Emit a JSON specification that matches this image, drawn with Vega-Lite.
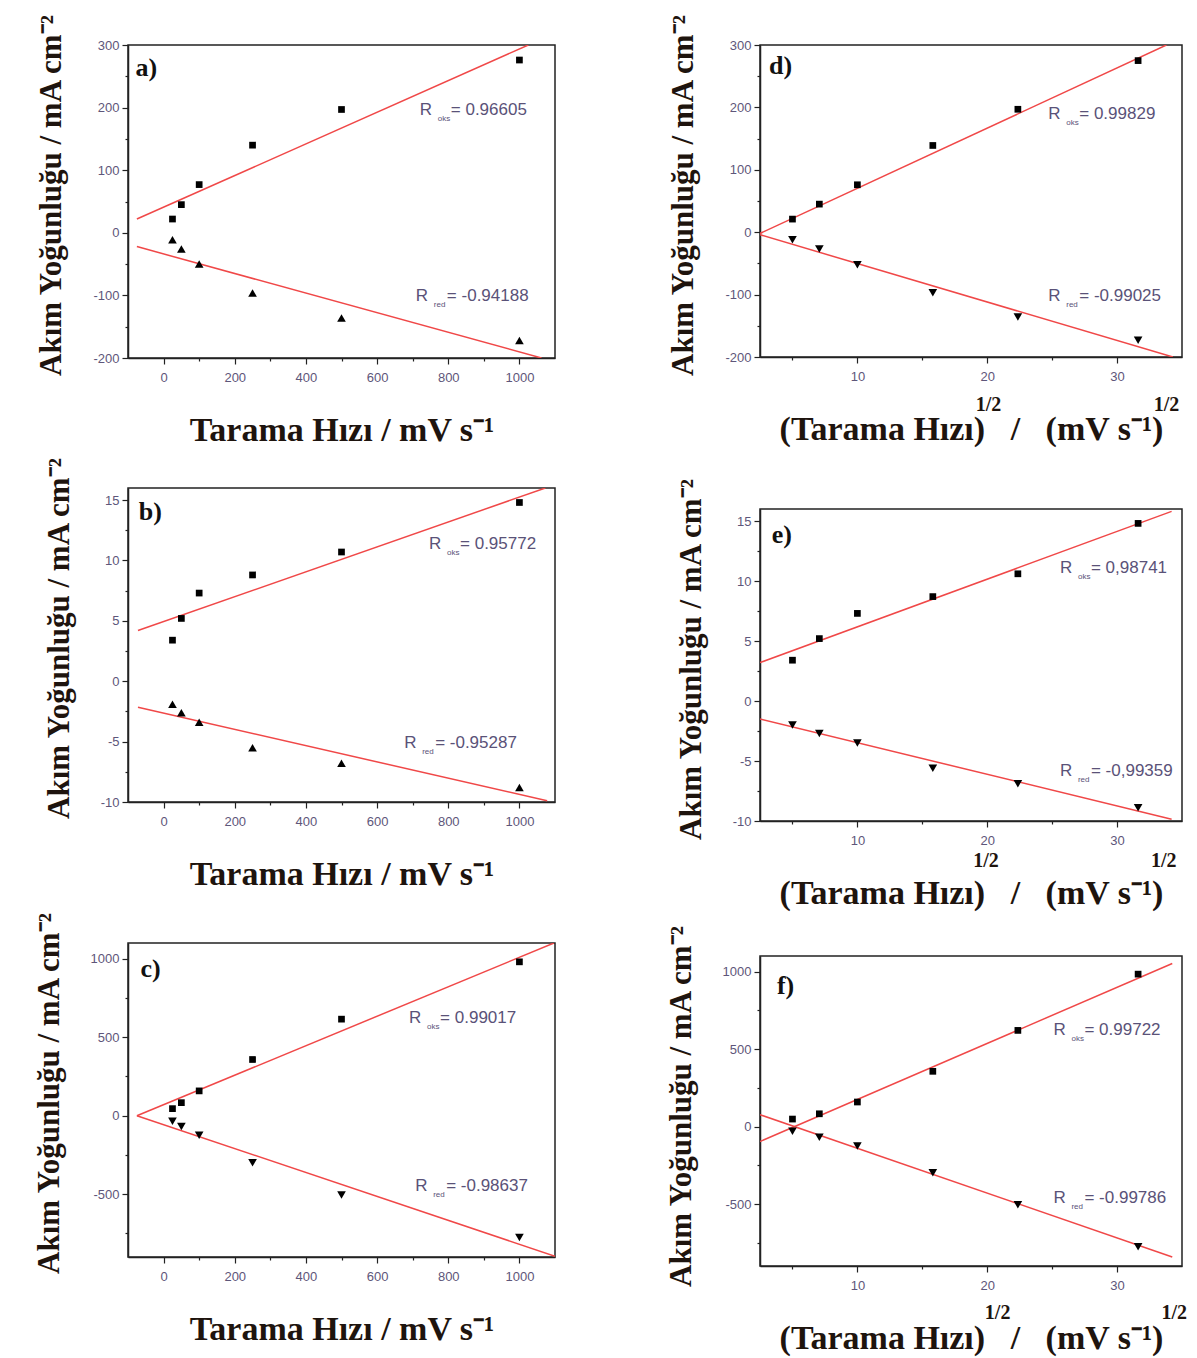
{
  "$schema": "https://vega.github.io/schema/vega-lite/v6.json",
  "background": "white",
  "padding": {"left": 32, "top": 12, "right": 5, "bottom": 5},
  "config": {
    "view": {"stroke": "#222", "strokeWidth": 1.5},
    "axis": {
      "grid": false,
      "domainColor": "#222",
      "domainWidth": 1.5,
      "tickColor": "#222",
      "tickWidth": 1.2,
      "labelFont": "Liberation Sans",
      "labelFontSize": 13,
      "labelColor": "#5e567a",
      "labelOverlap": false,
      "labelFlush": false,
      "titleFont": "Liberation Serif",
      "titleFontWeight": "bold",
      "titleColor": "#1e140e"
    },
    "axisX": {"titlePadding": 29, "labelPadding": 7, "titleFontSize": 34},
    "axisY": {"titlePadding": 25, "labelPadding": 3, "titleFontSize": 31, "titleY": 150}
  },
  "datasets": {
    "pts": [
      {"panel": "a", "kind": "oks", "x": 25, "y": 22},
      {"panel": "a", "kind": "oks", "x": 50, "y": 45},
      {"panel": "a", "kind": "oks", "x": 100, "y": 77},
      {"panel": "a", "kind": "oks", "x": 250, "y": 140},
      {"panel": "a", "kind": "oks", "x": 500, "y": 197},
      {"panel": "a", "kind": "oks", "x": 1000, "y": 276},
      {"panel": "a", "kind": "red", "x": 25, "y": -11},
      {"panel": "a", "kind": "red", "x": 50, "y": -26},
      {"panel": "a", "kind": "red", "x": 100, "y": -50},
      {"panel": "a", "kind": "red", "x": 250, "y": -96},
      {"panel": "a", "kind": "red", "x": 500, "y": -136},
      {"panel": "a", "kind": "red", "x": 1000, "y": -172},
      {"panel": "b", "kind": "oks", "x": 25, "y": 3.4},
      {"panel": "b", "kind": "oks", "x": 50, "y": 5.2},
      {"panel": "b", "kind": "oks", "x": 100, "y": 7.3},
      {"panel": "b", "kind": "oks", "x": 250, "y": 8.8},
      {"panel": "b", "kind": "oks", "x": 500, "y": 10.7},
      {"panel": "b", "kind": "oks", "x": 1000, "y": 14.8},
      {"panel": "b", "kind": "red", "x": 25, "y": -1.9},
      {"panel": "b", "kind": "red", "x": 50, "y": -2.6},
      {"panel": "b", "kind": "red", "x": 100, "y": -3.4},
      {"panel": "b", "kind": "red", "x": 250, "y": -5.5},
      {"panel": "b", "kind": "red", "x": 500, "y": -6.8},
      {"panel": "b", "kind": "red", "x": 1000, "y": -8.8},
      {"panel": "c", "kind": "oks", "x": 25, "y": 45},
      {"panel": "c", "kind": "oks", "x": 50, "y": 83},
      {"panel": "c", "kind": "oks", "x": 100, "y": 158},
      {"panel": "c", "kind": "oks", "x": 250, "y": 358},
      {"panel": "c", "kind": "oks", "x": 500, "y": 615},
      {"panel": "c", "kind": "oks", "x": 1000, "y": 980},
      {"panel": "c", "kind": "red", "x": 25, "y": -35},
      {"panel": "c", "kind": "red", "x": 50, "y": -68},
      {"panel": "c", "kind": "red", "x": 100, "y": -125},
      {"panel": "c", "kind": "red", "x": 250, "y": -300},
      {"panel": "c", "kind": "red", "x": 500, "y": -505},
      {"panel": "c", "kind": "red", "x": 1000, "y": -775},
      {"panel": "d", "kind": "oks", "x": 5, "y": 21},
      {"panel": "d", "kind": "oks", "x": 7.07, "y": 45},
      {"panel": "d", "kind": "oks", "x": 10, "y": 76},
      {"panel": "d", "kind": "oks", "x": 15.81, "y": 139},
      {"panel": "d", "kind": "oks", "x": 22.36, "y": 197},
      {"panel": "d", "kind": "oks", "x": 31.62, "y": 275},
      {"panel": "d", "kind": "red", "x": 5, "y": -12},
      {"panel": "d", "kind": "red", "x": 7.07, "y": -27},
      {"panel": "d", "kind": "red", "x": 10, "y": -52},
      {"panel": "d", "kind": "red", "x": 15.81, "y": -97},
      {"panel": "d", "kind": "red", "x": 22.36, "y": -136},
      {"panel": "d", "kind": "red", "x": 31.62, "y": -173},
      {"panel": "e", "kind": "oks", "x": 5, "y": 3.4},
      {"panel": "e", "kind": "oks", "x": 7.07, "y": 5.2},
      {"panel": "e", "kind": "oks", "x": 10, "y": 7.3},
      {"panel": "e", "kind": "oks", "x": 15.81, "y": 8.7},
      {"panel": "e", "kind": "oks", "x": 22.36, "y": 10.6},
      {"panel": "e", "kind": "oks", "x": 31.62, "y": 14.8},
      {"panel": "e", "kind": "red", "x": 5, "y": -2.0},
      {"panel": "e", "kind": "red", "x": 7.07, "y": -2.7},
      {"panel": "e", "kind": "red", "x": 10, "y": -3.5},
      {"panel": "e", "kind": "red", "x": 15.81, "y": -5.6},
      {"panel": "e", "kind": "red", "x": 22.36, "y": -6.9},
      {"panel": "e", "kind": "red", "x": 31.62, "y": -8.9},
      {"panel": "f", "kind": "oks", "x": 5, "y": 48},
      {"panel": "f", "kind": "oks", "x": 7.07, "y": 82},
      {"panel": "f", "kind": "oks", "x": 10, "y": 158},
      {"panel": "f", "kind": "oks", "x": 15.81, "y": 356},
      {"panel": "f", "kind": "oks", "x": 22.36, "y": 620},
      {"panel": "f", "kind": "oks", "x": 31.62, "y": 983},
      {"panel": "f", "kind": "red", "x": 5, "y": -30},
      {"panel": "f", "kind": "red", "x": 7.07, "y": -70},
      {"panel": "f", "kind": "red", "x": 10, "y": -125},
      {"panel": "f", "kind": "red", "x": 15.81, "y": -298},
      {"panel": "f", "kind": "red", "x": 22.36, "y": -505},
      {"panel": "f", "kind": "red", "x": 31.62, "y": -775}
    ],
    "fits": [
      {"panel": "a", "kind": "oks", "x": -75, "y": 22},
      {"panel": "a", "kind": "oks", "x": 1025, "y": 300},
      {"panel": "a", "kind": "red", "x": -75, "y": -22},
      {"panel": "a", "kind": "red", "x": 1062, "y": -200},
      {"panel": "b", "kind": "oks", "x": -72, "y": 4.2},
      {"panel": "b", "kind": "oks", "x": 1073, "y": 16},
      {"panel": "b", "kind": "red", "x": -72, "y": -2.15},
      {"panel": "b", "kind": "red", "x": 1078, "y": -9.9},
      {"panel": "c", "kind": "oks", "x": -75, "y": 0},
      {"panel": "c", "kind": "oks", "x": 1097, "y": 1100},
      {"panel": "c", "kind": "red", "x": -75, "y": 0},
      {"panel": "c", "kind": "red", "x": 1100, "y": -895},
      {"panel": "d", "kind": "oks", "x": 2.5, "y": -2},
      {"panel": "d", "kind": "oks", "x": 33.8, "y": 300},
      {"panel": "d", "kind": "red", "x": 2.5, "y": -4},
      {"panel": "d", "kind": "red", "x": 34.3, "y": -200},
      {"panel": "e", "kind": "oks", "x": 2.5, "y": 3.2},
      {"panel": "e", "kind": "oks", "x": 34.2, "y": 15.8},
      {"panel": "e", "kind": "red", "x": 2.5, "y": -1.5},
      {"panel": "e", "kind": "red", "x": 34.2, "y": -9.85},
      {"panel": "f", "kind": "oks", "x": 2.5, "y": -97},
      {"panel": "f", "kind": "oks", "x": 34.25, "y": 1052},
      {"panel": "f", "kind": "red", "x": 2.5, "y": 76},
      {"panel": "f", "kind": "red", "x": 34.25, "y": -842}
    ],
    "notes": [
      {"panel": "a", "x": 720, "y": 196, "sub": "oks", "val": "= 0.96605"},
      {"panel": "a", "x": 709, "y": -101, "sub": "red", "val": "= -0.94188"},
      {"panel": "b", "x": 746, "y": 11.4, "sub": "oks", "val": "= 0.95772"},
      {"panel": "b", "x": 676, "y": -5.1, "sub": "red", "val": "= -0.95287"},
      {"panel": "c", "x": 690, "y": 621, "sub": "oks", "val": "= 0.99017"},
      {"panel": "c", "x": 707, "y": -445, "sub": "red", "val": "= -0.98637"},
      {"panel": "d", "x": 24.7, "y": 189, "sub": "oks", "val": "= 0.99829"},
      {"panel": "d", "x": 24.7, "y": -102, "sub": "red", "val": "= -0.99025"},
      {"panel": "e", "x": 25.6, "y": 11.1, "sub": "oks", "val": "= 0,98741"},
      {"panel": "e", "x": 25.6, "y": -5.8, "sub": "red", "val": "= -0,99359"},
      {"panel": "f", "x": 25.1, "y": 623, "sub": "oks", "val": "= 0.99722"},
      {"panel": "f", "x": 25.1, "y": -461, "sub": "red", "val": "= -0.99786"}
    ],
    "tags": [
      {"panel": "a", "x": -79, "y": 263, "t": "a)"},
      {"panel": "b", "x": -70, "y": 14, "t": "b)"},
      {"panel": "c", "x": -65, "y": 934, "t": "c)"},
      {"panel": "d", "x": 3.2, "y": 266, "t": "d)"},
      {"panel": "e", "x": 3.4, "y": 13.8, "t": "e)"},
      {"panel": "f", "x": 3.8, "y": 906, "t": "f)"}
    ],
    "supers": [
      {"panel": "d", "x": 20.1, "y": -277, "t": "1/2"},
      {"panel": "d", "x": 33.8, "y": -277, "t": "1/2"},
      {"panel": "e", "x": 19.9, "y": -13.3, "t": "1/2"},
      {"panel": "e", "x": 33.6, "y": -13.3, "t": "1/2"},
      {"panel": "f", "x": 20.8, "y": -1203, "t": "1/2"},
      {"panel": "f", "x": 34.4, "y": -1203, "t": "1/2"}
    ]
  },
  "resolve": {"scale": {"x": "independent", "y": "independent"}},
  "bounds": "flush",
  "spacing": 632,
  "hconcat": [
    {
      "bounds": "flush",
      "spacing": 130,
      "resolve": {"scale": {"x": "independent", "y": "independent"}},
      "vconcat": [
        {
          "width": 427, "height": 313,
          "encoding": {
            "x": {"field": "x", "type": "quantitative", "scale": {"domain": [-100, 1100], "nice": false, "zero": false},
              "axis": {"title": "Tarama Hızı / mV s⁻¹", "values": [0, 100, 200, 300, 400, 500, 600, 700, 800, 900, 1000],
                "labelExpr": "datum.value % 200 === 0 ? '' + datum.value : ''",
                "tickSize": {"condition": {"test": "datum.value % 200 === 0", "value": 6}, "value": 3}}},
            "y": {"field": "y", "type": "quantitative", "scale": {"domain": [-200, 300], "nice": false, "zero": false},
              "axis": {"title": "Akım Yoğunluğu / mA cm⁻²", "values": [-200, -150, -100, -50, 0, 50, 100, 150, 200, 250, 300],
                "labelExpr": "datum.value % 100 === 0 ? '' + datum.value : ''",
                "tickSize": {"condition": {"test": "datum.value % 100 === 0", "value": 6}, "value": 3}}}
          },
          "layer": [
            {"data": {"name": "fits"}, "transform": [{"filter": "datum.panel === 'a'"}],
              "mark": {"type": "line", "color": "#f04848", "strokeWidth": 1.5, "clip": true}, "encoding": {"detail": {"field": "kind"}}},
            {"data": {"name": "pts"}, "transform": [{"filter": "datum.panel === 'a' && datum.kind === 'oks'"}],
              "mark": {"type": "point", "shape": "square", "filled": true, "color": "#000", "opacity": 1, "size": 45}},
            {"data": {"name": "pts"}, "transform": [{"filter": "datum.panel === 'a' && datum.kind === 'red'"}],
              "mark": {"type": "point", "shape": "triangle-up", "filled": true, "color": "#000", "opacity": 1, "size": 75}},
            {"data": {"name": "notes"}, "transform": [{"filter": "datum.panel === 'a'"}],
              "mark": {"type": "text", "align": "left", "baseline": "middle", "font": "Liberation Sans", "fontSize": 17, "color": "#5a5278"},
              "encoding": {"text": {"value": "R"}}},
            {"data": {"name": "notes"}, "transform": [{"filter": "datum.panel === 'a'"}],
              "mark": {"type": "text", "align": "left", "baseline": "middle", "font": "Liberation Sans", "fontSize": 8, "dx": 18, "dy": 9, "color": "#5a5278"},
              "encoding": {"text": {"field": "sub"}}},
            {"data": {"name": "notes"}, "transform": [{"filter": "datum.panel === 'a'"}],
              "mark": {"type": "text", "align": "left", "baseline": "middle", "font": "Liberation Sans", "fontSize": 17, "dx": 31, "color": "#5a5278"},
              "encoding": {"text": {"field": "val"}}},
            {"data": {"name": "tags"}, "transform": [{"filter": "datum.panel === 'a'"}],
              "mark": {"type": "text", "align": "left", "baseline": "middle", "font": "Liberation Serif", "fontWeight": "bold", "fontSize": 26, "color": "#111"},
              "encoding": {"text": {"field": "t"}}}
          ]
        },
        {
          "bounds": "flush",
          "spacing": 141,
          "resolve": {"scale": {"x": "independent", "y": "independent"}},
          "vconcat": [
            {
              "width": 427, "height": 314,
              "encoding": {
                "x": {"field": "x", "type": "quantitative", "scale": {"domain": [-100, 1100], "nice": false, "zero": false},
                  "axis": {"title": "Tarama Hızı / mV s⁻¹", "values": [0, 100, 200, 300, 400, 500, 600, 700, 800, 900, 1000],
                    "labelExpr": "datum.value % 200 === 0 ? '' + datum.value : ''",
                    "tickSize": {"condition": {"test": "datum.value % 200 === 0", "value": 6}, "value": 3}}},
                "y": {"field": "y", "type": "quantitative", "scale": {"domain": [-10, 16], "nice": false, "zero": false},
                  "axis": {"title": "Akım Yoğunluğu / mA cm⁻²", "values": [-10, -7.5, -5, -2.5, 0, 2.5, 5, 7.5, 10, 12.5, 15],
                    "labelExpr": "datum.value % 5 === 0 ? '' + datum.value : ''",
                    "tickSize": {"condition": {"test": "datum.value % 5 === 0", "value": 6}, "value": 3}}}
              },
              "layer": [
                {"data": {"name": "fits"}, "transform": [{"filter": "datum.panel === 'b'"}],
                  "mark": {"type": "line", "color": "#f04848", "strokeWidth": 1.5, "clip": true}, "encoding": {"detail": {"field": "kind"}}},
                {"data": {"name": "pts"}, "transform": [{"filter": "datum.panel === 'b' && datum.kind === 'oks'"}],
                  "mark": {"type": "point", "shape": "square", "filled": true, "color": "#000", "opacity": 1, "size": 45}},
                {"data": {"name": "pts"}, "transform": [{"filter": "datum.panel === 'b' && datum.kind === 'red'"}],
                  "mark": {"type": "point", "shape": "triangle-up", "filled": true, "color": "#000", "opacity": 1, "size": 75}},
                {"data": {"name": "notes"}, "transform": [{"filter": "datum.panel === 'b'"}],
                  "mark": {"type": "text", "align": "left", "baseline": "middle", "font": "Liberation Sans", "fontSize": 17, "color": "#5a5278"},
                  "encoding": {"text": {"value": "R"}}},
                {"data": {"name": "notes"}, "transform": [{"filter": "datum.panel === 'b'"}],
                  "mark": {"type": "text", "align": "left", "baseline": "middle", "font": "Liberation Sans", "fontSize": 8, "dx": 18, "dy": 9, "color": "#5a5278"},
                  "encoding": {"text": {"field": "sub"}}},
                {"data": {"name": "notes"}, "transform": [{"filter": "datum.panel === 'b'"}],
                  "mark": {"type": "text", "align": "left", "baseline": "middle", "font": "Liberation Sans", "fontSize": 17, "dx": 31, "color": "#5a5278"},
                  "encoding": {"text": {"field": "val"}}},
                {"data": {"name": "tags"}, "transform": [{"filter": "datum.panel === 'b'"}],
                  "mark": {"type": "text", "align": "left", "baseline": "middle", "font": "Liberation Serif", "fontWeight": "bold", "fontSize": 26, "color": "#111"},
                  "encoding": {"text": {"field": "t"}}}
              ]
            },
            {
              "width": 427, "height": 314,
              "encoding": {
                "x": {"field": "x", "type": "quantitative", "scale": {"domain": [-100, 1100], "nice": false, "zero": false},
                  "axis": {"title": "Tarama Hızı / mV s⁻¹", "values": [0, 100, 200, 300, 400, 500, 600, 700, 800, 900, 1000],
                    "labelExpr": "datum.value % 200 === 0 ? '' + datum.value : ''",
                    "tickSize": {"condition": {"test": "datum.value % 200 === 0", "value": 6}, "value": 3}}},
                "y": {"field": "y", "type": "quantitative", "scale": {"domain": [-900, 1100], "nice": false, "zero": false},
                  "axis": {"title": "Akım Yoğunluğu / mA cm⁻²", "values": [-750, -500, -250, 0, 250, 500, 750, 1000],
                    "labelExpr": "datum.value % 500 === 0 ? '' + datum.value : ''",
                    "tickSize": {"condition": {"test": "datum.value % 500 === 0", "value": 6}, "value": 3}}}
              },
              "layer": [
                {"data": {"name": "fits"}, "transform": [{"filter": "datum.panel === 'c'"}],
                  "mark": {"type": "line", "color": "#f04848", "strokeWidth": 1.5, "clip": true}, "encoding": {"detail": {"field": "kind"}}},
                {"data": {"name": "pts"}, "transform": [{"filter": "datum.panel === 'c' && datum.kind === 'oks'"}],
                  "mark": {"type": "point", "shape": "square", "filled": true, "color": "#000", "opacity": 1, "size": 45}},
                {"data": {"name": "pts"}, "transform": [{"filter": "datum.panel === 'c' && datum.kind === 'red'"}],
                  "mark": {"type": "point", "shape": "triangle-down", "filled": true, "color": "#000", "opacity": 1, "size": 75}},
                {"data": {"name": "notes"}, "transform": [{"filter": "datum.panel === 'c'"}],
                  "mark": {"type": "text", "align": "left", "baseline": "middle", "font": "Liberation Sans", "fontSize": 17, "color": "#5a5278"},
                  "encoding": {"text": {"value": "R"}}},
                {"data": {"name": "notes"}, "transform": [{"filter": "datum.panel === 'c'"}],
                  "mark": {"type": "text", "align": "left", "baseline": "middle", "font": "Liberation Sans", "fontSize": 8, "dx": 18, "dy": 9, "color": "#5a5278"},
                  "encoding": {"text": {"field": "sub"}}},
                {"data": {"name": "notes"}, "transform": [{"filter": "datum.panel === 'c'"}],
                  "mark": {"type": "text", "align": "left", "baseline": "middle", "font": "Liberation Sans", "fontSize": 17, "dx": 31, "color": "#5a5278"},
                  "encoding": {"text": {"field": "val"}}},
                {"data": {"name": "tags"}, "transform": [{"filter": "datum.panel === 'c'"}],
                  "mark": {"type": "text", "align": "left", "baseline": "middle", "font": "Liberation Serif", "fontWeight": "bold", "fontSize": 26, "color": "#111"},
                  "encoding": {"text": {"field": "t"}}}
              ]
            }
          ]
        }
      ]
    },
    {
      "bounds": "flush",
      "spacing": 152,
      "resolve": {"scale": {"x": "independent", "y": "independent"}},
      "vconcat": [
        {
          "width": 422, "height": 312,
          "encoding": {
            "x": {"field": "x", "type": "quantitative", "scale": {"domain": [2.5, 35], "nice": false, "zero": false},
              "axis": {"title": "(Tarama Hızı)\u00a0\u00a0\u00a0/\u00a0\u00a0\u00a0(mV s⁻¹)", "values": [5, 10, 15, 20, 25, 30],
                "labelExpr": "datum.value % 10 === 0 ? '' + datum.value : ''",
                "tickSize": {"condition": {"test": "datum.value % 10 === 0", "value": 6}, "value": 3}}},
            "y": {"field": "y", "type": "quantitative", "scale": {"domain": [-200, 300], "nice": false, "zero": false},
              "axis": {"title": "Akım Yoğunluğu / mA cm⁻²", "values": [-200, -150, -100, -50, 0, 50, 100, 150, 200, 250, 300],
                "labelExpr": "datum.value % 100 === 0 ? '' + datum.value : ''",
                "tickSize": {"condition": {"test": "datum.value % 100 === 0", "value": 6}, "value": 3}}}
          },
          "layer": [
            {"data": {"name": "fits"}, "transform": [{"filter": "datum.panel === 'd'"}],
              "mark": {"type": "line", "color": "#f04848", "strokeWidth": 1.5, "clip": true}, "encoding": {"detail": {"field": "kind"}}},
            {"data": {"name": "pts"}, "transform": [{"filter": "datum.panel === 'd' && datum.kind === 'oks'"}],
              "mark": {"type": "point", "shape": "square", "filled": true, "color": "#000", "opacity": 1, "size": 45}},
            {"data": {"name": "pts"}, "transform": [{"filter": "datum.panel === 'd' && datum.kind === 'red'"}],
              "mark": {"type": "point", "shape": "triangle-down", "filled": true, "color": "#000", "opacity": 1, "size": 75}},
            {"data": {"name": "notes"}, "transform": [{"filter": "datum.panel === 'd'"}],
              "mark": {"type": "text", "align": "left", "baseline": "middle", "font": "Liberation Sans", "fontSize": 17, "color": "#5a5278"},
              "encoding": {"text": {"value": "R"}}},
            {"data": {"name": "notes"}, "transform": [{"filter": "datum.panel === 'd'"}],
              "mark": {"type": "text", "align": "left", "baseline": "middle", "font": "Liberation Sans", "fontSize": 8, "dx": 18, "dy": 9, "color": "#5a5278"},
              "encoding": {"text": {"field": "sub"}}},
            {"data": {"name": "notes"}, "transform": [{"filter": "datum.panel === 'd'"}],
              "mark": {"type": "text", "align": "left", "baseline": "middle", "font": "Liberation Sans", "fontSize": 17, "dx": 31, "color": "#5a5278"},
              "encoding": {"text": {"field": "val"}}},
            {"data": {"name": "tags"}, "transform": [{"filter": "datum.panel === 'd'"}],
              "mark": {"type": "text", "align": "left", "baseline": "middle", "font": "Liberation Serif", "fontWeight": "bold", "fontSize": 26, "color": "#111"},
              "encoding": {"text": {"field": "t"}}},
            {"data": {"name": "supers"}, "transform": [{"filter": "datum.panel === 'd'"}],
              "mark": {"type": "text", "align": "center", "baseline": "middle", "font": "Liberation Serif", "fontWeight": "bold", "fontSize": 20, "color": "#1e140e", "clip": false},
              "encoding": {"text": {"field": "t"}}}
          ]
        },
        {
          "bounds": "flush",
          "spacing": 135,
          "resolve": {"scale": {"x": "independent", "y": "independent"}},
          "vconcat": [
            {
              "width": 422, "height": 312,
              "encoding": {
                "x": {"field": "x", "type": "quantitative", "scale": {"domain": [2.5, 35], "nice": false, "zero": false},
                  "axis": {"title": "(Tarama Hızı)\u00a0\u00a0\u00a0/\u00a0\u00a0\u00a0(mV s⁻¹)", "values": [5, 10, 15, 20, 25, 30],
                    "labelExpr": "datum.value % 10 === 0 ? '' + datum.value : ''",
                    "tickSize": {"condition": {"test": "datum.value % 10 === 0", "value": 6}, "value": 3}}},
                "y": {"field": "y", "type": "quantitative", "scale": {"domain": [-10, 16], "nice": false, "zero": false},
                  "axis": {"title": "Akım Yoğunluğu / mA cm⁻²", "values": [-10, -7.5, -5, -2.5, 0, 2.5, 5, 7.5, 10, 12.5, 15],
                    "labelExpr": "datum.value % 5 === 0 ? '' + datum.value : ''",
                    "tickSize": {"condition": {"test": "datum.value % 5 === 0", "value": 6}, "value": 3}}}
              },
              "layer": [
                {"data": {"name": "fits"}, "transform": [{"filter": "datum.panel === 'e'"}],
                  "mark": {"type": "line", "color": "#f04848", "strokeWidth": 1.5, "clip": true}, "encoding": {"detail": {"field": "kind"}}},
                {"data": {"name": "pts"}, "transform": [{"filter": "datum.panel === 'e' && datum.kind === 'oks'"}],
                  "mark": {"type": "point", "shape": "square", "filled": true, "color": "#000", "opacity": 1, "size": 45}},
                {"data": {"name": "pts"}, "transform": [{"filter": "datum.panel === 'e' && datum.kind === 'red'"}],
                  "mark": {"type": "point", "shape": "triangle-down", "filled": true, "color": "#000", "opacity": 1, "size": 75}},
                {"data": {"name": "notes"}, "transform": [{"filter": "datum.panel === 'e'"}],
                  "mark": {"type": "text", "align": "left", "baseline": "middle", "font": "Liberation Sans", "fontSize": 17, "color": "#5a5278"},
                  "encoding": {"text": {"value": "R"}}},
                {"data": {"name": "notes"}, "transform": [{"filter": "datum.panel === 'e'"}],
                  "mark": {"type": "text", "align": "left", "baseline": "middle", "font": "Liberation Sans", "fontSize": 8, "dx": 18, "dy": 9, "color": "#5a5278"},
                  "encoding": {"text": {"field": "sub"}}},
                {"data": {"name": "notes"}, "transform": [{"filter": "datum.panel === 'e'"}],
                  "mark": {"type": "text", "align": "left", "baseline": "middle", "font": "Liberation Sans", "fontSize": 17, "dx": 31, "color": "#5a5278"},
                  "encoding": {"text": {"field": "val"}}},
                {"data": {"name": "tags"}, "transform": [{"filter": "datum.panel === 'e'"}],
                  "mark": {"type": "text", "align": "left", "baseline": "middle", "font": "Liberation Serif", "fontWeight": "bold", "fontSize": 26, "color": "#111"},
                  "encoding": {"text": {"field": "t"}}},
                {"data": {"name": "supers"}, "transform": [{"filter": "datum.panel === 'e'"}],
                  "mark": {"type": "text", "align": "center", "baseline": "middle", "font": "Liberation Serif", "fontWeight": "bold", "fontSize": 20, "color": "#1e140e", "clip": false},
                  "encoding": {"text": {"field": "t"}}}
              ]
            },
            {
              "width": 422, "height": 310,
              "encoding": {
                "x": {"field": "x", "type": "quantitative", "scale": {"domain": [2.5, 35], "nice": false, "zero": false},
                  "axis": {"title": "(Tarama Hızı)\u00a0\u00a0\u00a0/\u00a0\u00a0\u00a0(mV s⁻¹)", "values": [5, 10, 15, 20, 25, 30],
                    "labelExpr": "datum.value % 10 === 0 ? '' + datum.value : ''",
                    "tickSize": {"condition": {"test": "datum.value % 10 === 0", "value": 6}, "value": 3}}},
                "y": {"field": "y", "type": "quantitative", "scale": {"domain": [-900, 1100], "nice": false, "zero": false},
                  "axis": {"title": "Akım Yoğunluğu / mA cm⁻²", "values": [-750, -500, -250, 0, 250, 500, 750, 1000],
                    "labelExpr": "datum.value % 500 === 0 ? '' + datum.value : ''",
                    "tickSize": {"condition": {"test": "datum.value % 500 === 0", "value": 6}, "value": 3}}}
              },
              "layer": [
                {"data": {"name": "fits"}, "transform": [{"filter": "datum.panel === 'f'"}],
                  "mark": {"type": "line", "color": "#f04848", "strokeWidth": 1.5, "clip": true}, "encoding": {"detail": {"field": "kind"}}},
                {"data": {"name": "pts"}, "transform": [{"filter": "datum.panel === 'f' && datum.kind === 'oks'"}],
                  "mark": {"type": "point", "shape": "square", "filled": true, "color": "#000", "opacity": 1, "size": 45}},
                {"data": {"name": "pts"}, "transform": [{"filter": "datum.panel === 'f' && datum.kind === 'red'"}],
                  "mark": {"type": "point", "shape": "triangle-down", "filled": true, "color": "#000", "opacity": 1, "size": 75}},
                {"data": {"name": "notes"}, "transform": [{"filter": "datum.panel === 'f'"}],
                  "mark": {"type": "text", "align": "left", "baseline": "middle", "font": "Liberation Sans", "fontSize": 17, "color": "#5a5278"},
                  "encoding": {"text": {"value": "R"}}},
                {"data": {"name": "notes"}, "transform": [{"filter": "datum.panel === 'f'"}],
                  "mark": {"type": "text", "align": "left", "baseline": "middle", "font": "Liberation Sans", "fontSize": 8, "dx": 18, "dy": 9, "color": "#5a5278"},
                  "encoding": {"text": {"field": "sub"}}},
                {"data": {"name": "notes"}, "transform": [{"filter": "datum.panel === 'f'"}],
                  "mark": {"type": "text", "align": "left", "baseline": "middle", "font": "Liberation Sans", "fontSize": 17, "dx": 31, "color": "#5a5278"},
                  "encoding": {"text": {"field": "val"}}},
                {"data": {"name": "tags"}, "transform": [{"filter": "datum.panel === 'f'"}],
                  "mark": {"type": "text", "align": "left", "baseline": "middle", "font": "Liberation Serif", "fontWeight": "bold", "fontSize": 26, "color": "#111"},
                  "encoding": {"text": {"field": "t"}}},
                {"data": {"name": "supers"}, "transform": [{"filter": "datum.panel === 'f'"}],
                  "mark": {"type": "text", "align": "center", "baseline": "middle", "font": "Liberation Serif", "fontWeight": "bold", "fontSize": 20, "color": "#1e140e", "clip": false},
                  "encoding": {"text": {"field": "t"}}}
              ]
            }
          ]
        }
      ]
    }
  ]
}
